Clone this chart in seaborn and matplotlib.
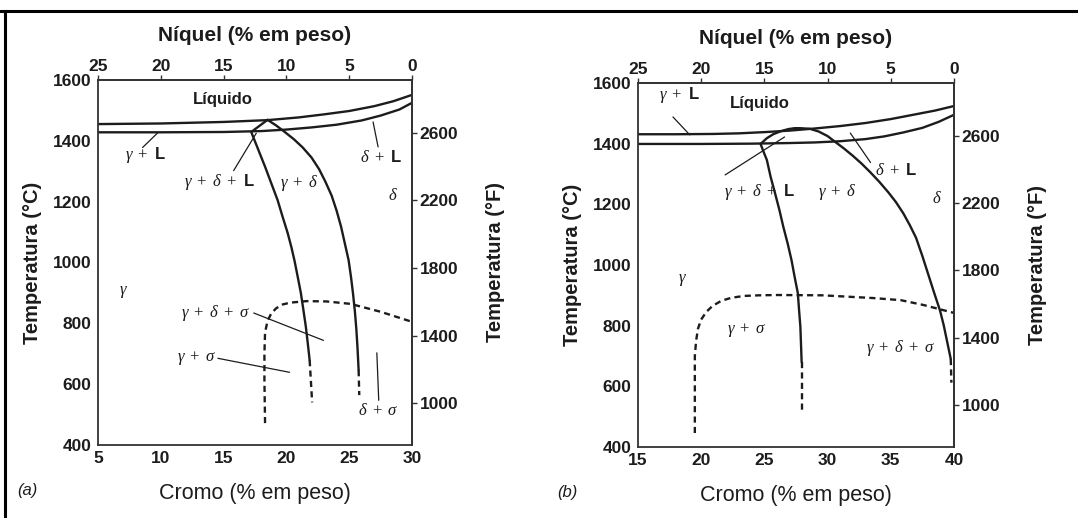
import matplotlib
matplotlib.use("Agg")
import matplotlib.pyplot as plt
import seaborn as sns
from matplotlib.lines import Line2D

# ---------------------------------------------------------------------------
# DATA  (Cr wt% vs temperature in °C)
# ---------------------------------------------------------------------------
# panel (a): Ni = 30 - Cr
a_liq_cr = [5, 10, 15, 18.5, 21, 23, 25, 27, 28.5, 30]
a_liq_t = [1455, 1457, 1462, 1468, 1477, 1487, 1498, 1514, 1530, 1551]
a_sol_cr = [5, 10, 15, 18, 20, 22, 24, 26, 27.5, 29, 30]
a_sol_t = [1428, 1428, 1429, 1432, 1437, 1444, 1453, 1467, 1483, 1503, 1525]
a_gam_cr = [18.5, 17.2, 17.75, 18.3, 18.8, 19.3, 19.7, 20.1, 20.4, 20.65,
            20.9, 21.15, 21.35, 21.55, 21.7, 21.85]
a_gam_t = [1469, 1429, 1372, 1315, 1260, 1205, 1150, 1097, 1050, 1005,
           953, 900, 845, 788, 735, 679]
a_gam_lo_cr = [21.85, 21.95, 22.05]
a_gam_lo_t = [679, 610, 540]
a_del_cr = [18.5, 19.2, 19.9, 20.6, 21.3, 22.0, 22.6, 23.1, 23.6, 24.0,
            24.35, 24.65, 24.95, 25.15, 25.3, 25.45, 25.57, 25.66, 25.75]
a_del_t = [1469, 1450, 1428, 1405, 1378, 1345, 1307, 1266, 1220, 1170,
           1118, 1063, 1008, 950, 899, 840, 780, 720, 646]
a_del_lo_cr = [25.75, 25.8]
a_del_lo_t = [646, 564]
a_sig_cr = [18.3, 18.25, 18.25, 18.3, 18.5, 18.8, 19.2, 19.7, 20.3, 21.6,
            23.2, 25.1, 27.5, 30.0]
a_sig_t = [472, 614, 700, 770, 808, 833, 850, 862, 868, 873,
           872, 864, 838, 805]

# panel (b): Ni = 40 - Cr
b_liq_cr = [15, 18, 21, 23, 25, 27, 29, 31, 33, 35, 37, 38.5, 40]
b_liq_t = [1431, 1431, 1432, 1434, 1438, 1443, 1450, 1458, 1468, 1481,
           1497, 1509, 1524]
b_sol_cr = [15, 20, 24, 27, 29, 31, 33, 34.5, 36, 37.5, 38.8, 40]
b_sol_t = [1399, 1399, 1400, 1402, 1404, 1408, 1415, 1424, 1437, 1452,
           1472, 1495]
b_gam_cr = [27.8, 27.4, 26.9, 26.3, 25.7, 25.2, 24.7, 24.95, 25.2, 25.5,
            25.85, 26.2, 26.5, 26.85, 27.15, 27.4, 27.65, 27.75, 27.85,
            27.9, 27.95]
b_gam_t = [1451, 1451, 1448, 1441, 1431, 1418, 1399, 1372, 1346, 1290,
           1236, 1180, 1126, 1070, 1016, 960, 907, 850, 797, 740, 680]
b_gam_lo_cr = [27.95, 27.95, 27.95]
b_gam_lo_t = [680, 600, 522]
b_del_cr = [27.8, 28.6, 29.3, 30.0, 30.6, 31.3, 32.0, 32.7, 33.4, 34.1,
            34.8, 35.4, 36.0, 36.5, 37.0, 37.5, 38.0, 38.5, 38.9, 39.2,
            39.45, 39.65, 39.75]
b_del_t = [1451, 1449, 1440, 1425, 1406, 1384, 1360, 1334, 1305, 1274,
           1240, 1208, 1170, 1132, 1090, 1030, 965, 900, 850, 800,
           750, 710, 690]
b_del_lo_cr = [39.75, 39.8]
b_del_lo_t = [690, 612]
b_sig_cr = [19.5, 19.5, 19.5, 19.6, 19.75, 20.0, 20.4, 20.9, 21.6, 22.4,
            23.4, 24.6, 26.0, 29.6, 33.6, 35.8, 37.6, 40.0]
b_sig_t = [446, 600, 700, 750, 790, 820, 845, 865, 882, 892,
           898, 900, 901, 900, 891, 884, 868, 842]

ni_ticks = [25, 20, 15, 10, 5, 0]
f_ticks = [1000, 1400, 1800, 2200, 2600]
c_ticks = [400, 600, 800, 1000, 1200, 1400, 1600]

# ---------------------------------------------------------------------------
# STYLE
# ---------------------------------------------------------------------------
sns.set_theme(style="white")
plt.rcParams["font.family"] = ["Liberation Sans", "DejaVu Sans"]
plt.rcParams["mathtext.fontset"] = "custom"
plt.rcParams["mathtext.it"] = "Liberation Serif:italic"
plt.rcParams["mathtext.rm"] = "Liberation Serif"
plt.rcParams["lines.dashed_pattern"] = [2.6, 1.8]

INK = "#1c1c1c"
LW = 1.7
THIN = 0.9
TICK_FS = 12.5

fig = plt.figure(figsize=(10.78, 5.18), dpi=100)


def c2f(c):
    return c * 9 / 5 + 32


def f2c(f):
    return (f - 32) * 5 / 9


def curve(ax, x, y, dashed=False):
    sns.lineplot(x=x, y=y, sort=False, estimator=None, ax=ax, color=INK,
                 lw=LW, linestyle="--" if dashed else "-")


def label(ax, x, y, s, size=12):
    ax.text(x, y, s, ha="center", va="center", fontsize=size, color=INK,
            fontweight="bold")


def leader(ax, x, y):
    ax.plot(x, y, color=INK, lw=THIN)


def bold_ticks(labels):
    for t in labels:
        t.set_fontweight("bold")


def setup(ax, cr_min, ni_sum):
    ax.set_xlim(cr_min, cr_min + 25)
    ax.set_ylim(400, 1600)
    ax.set_xticks(list(range(cr_min, cr_min + 26, 5)))
    ax.set_yticks(c_ticks)
    for s in ax.spines.values():
        s.set_color("#333333")
        s.set_linewidth(1.3)
    ax.tick_params(direction="out", length=3.5, width=1, colors="#333333",
                   labelsize=TICK_FS, labelcolor=INK, pad=1)
    bold_ticks(ax.get_xticklabels() + ax.get_yticklabels())
    ax.set_xlabel("Cromo (% em peso)", fontsize=15.5, color=INK, labelpad=12)
    ax.set_ylabel("Temperatura (°C)", fontsize=14.5, fontweight="bold",
                  color=INK, labelpad=8)

    top = ax.secondary_xaxis("top", functions=(lambda x: ni_sum - x,
                                               lambda x: ni_sum - x))
    top.set_xticks(ni_ticks)
    top.tick_params(direction="out", length=3.5, width=1, colors="#333333",
                    labelsize=TICK_FS, labelcolor=INK, pad=1)
    bold_ticks(top.get_xticklabels())
    top.set_xlabel("Níquel (% em peso)", fontsize=15, fontweight="bold",
                   color=INK, labelpad=13)
    top.spines["top"].set_color("#333333")

    right = ax.secondary_yaxis("right", functions=(c2f, f2c))
    right.set_yticks(f_ticks)
    right.tick_params(direction="out", length=3.5, width=1, colors="#333333",
                      labelsize=TICK_FS, labelcolor=INK, pad=2)
    bold_ticks(right.get_yticklabels())
    right.set_ylabel("Temperatura (°F)", fontsize=14.5, fontweight="bold",
                     color=INK, labelpad=20)


# ---------------------------------------------------------------------------
# PANEL (a)
# ---------------------------------------------------------------------------
ax1 = fig.add_axes([0.0909, 0.1409, 0.2913, 0.7047])
curve(ax1, a_liq_cr, a_liq_t)
curve(ax1, a_sol_cr, a_sol_t)
curve(ax1, a_gam_cr, a_gam_t)
curve(ax1, a_gam_lo_cr, a_gam_lo_t, dashed=True)
curve(ax1, a_del_cr, a_del_t)
curve(ax1, a_del_lo_cr, a_del_lo_t, dashed=True)
curve(ax1, a_sig_cr, a_sig_t, dashed=True)
setup(ax1, 5, 30)

label(ax1, 14.9, 1537, "Líquido")
label(ax1, 8.8, 1353, r"$\gamma\ +$ L")
leader(ax1, [8.55, 9.75], [1378, 1426])
label(ax1, 14.7, 1266, r"$\gamma\ +\ \delta\ +$ L")
leader(ax1, [15.8, 17.6], [1302, 1425])
label(ax1, 21.0, 1262, r"$\gamma\ +\ \delta$")
label(ax1, 27.5, 1348, r"$\delta\ +$ L")
leader(ax1, [27.3, 26.9], [1380, 1462])
label(ax1, 28.45, 1222, r"$\delta$")
label(ax1, 7.0, 903, r"$\gamma$")
label(ax1, 14.4, 834, r"$\gamma\ +\ \delta\ +\ \sigma$")
leader(ax1, [17.4, 22.95], [834, 744])
label(ax1, 12.9, 685, r"$\gamma\ +\ \sigma$")
leader(ax1, [14.55, 20.25], [685, 639])
label(ax1, 27.3, 514, r"$\delta\ +\ \sigma$")
leader(ax1, [27.2, 27.35], [703, 547])
fig.text(0.025, 0.054, "(a)", fontsize=12, style="italic", color=INK,
         ha="center", va="center")

# ---------------------------------------------------------------------------
# PANEL (b)
# ---------------------------------------------------------------------------
ax2 = fig.add_axes([0.5918, 0.1371, 0.2931, 0.7027])
curve(ax2, b_liq_cr, b_liq_t)
curve(ax2, b_sol_cr, b_sol_t)
curve(ax2, b_gam_cr, b_gam_t)
curve(ax2, b_gam_lo_cr, b_gam_lo_t, dashed=True)
curve(ax2, b_del_cr, b_del_t)
curve(ax2, b_del_lo_cr, b_del_lo_t, dashed=True)
curve(ax2, b_sig_cr, b_sig_t, dashed=True)
setup(ax2, 15, 40)

label(ax2, 18.3, 1560, r"$\gamma\ +$ L")
leader(ax2, [17.77, 19.1], [1488, 1429])
label(ax2, 24.65, 1534, "Líquido")
label(ax2, 24.65, 1242, r"$\gamma\ +\ \delta\ +$ L")
leader(ax2, [21.9, 26.6], [1297, 1422])
label(ax2, 30.77, 1242, r"$\gamma\ +\ \delta$")
label(ax2, 35.4, 1313, r"$\delta\ +$ L")
leader(ax2, [33.4, 31.8], [1338, 1435])
label(ax2, 38.65, 1221, r"$\delta$")
label(ax2, 18.5, 950, r"$\gamma$")
label(ax2, 23.6, 786, r"$\gamma\ +\ \sigma$")
label(ax2, 35.8, 726, r"$\gamma\ +\ \delta\ +\ \sigma$")
fig.text(0.526, 0.050, "(b)", fontsize=12, style="italic", color=INK,
         ha="center", va="center")

# outer frame lines (top and left)
fig.add_artist(Line2D([0, 1], [0.979, 0.979], color="black", lw=2.2,
                      transform=fig.transFigure))
fig.add_artist(Line2D([0.0048, 0.0048], [0, 0.979], color="black", lw=2.2,
                      transform=fig.transFigure))

fig.savefig("out.png", dpi=100, facecolor="white")
